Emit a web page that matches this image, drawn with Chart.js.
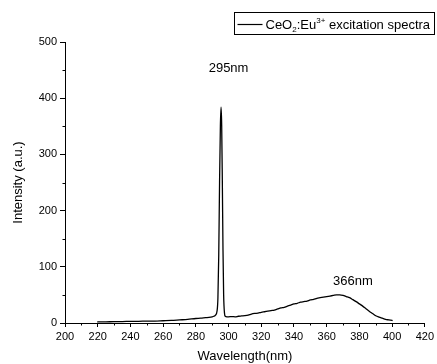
<!DOCTYPE html>
<html>
<head>
<meta charset="utf-8">
<script src="https://cdn.jsdelivr.net/npm/chart.js@4"></script>
<style>
  html, body { margin: 0; padding: 0; background: #fff; }
  #wrap { width: 437px; height: 364px; }
</style>
</head>
<body>
<div id="wrap"><canvas id="chart"></canvas></div>
<script>
// wavelength (nm) and intensity (a.u.)
const wavelengths = [220, 225, 230, 235, 240, 245, 250, 255, 260, 265, 270, 275, 280, 283, 286, 288, 290, 291, 292, 293,
  293.5, 294, 294.5, 295, 295.4, 295.8, 296.2, 296.6, 297, 297.5, 298, 299, 300, 302, 304, 306, 308, 310, 312, 314,
  316, 318, 320, 322, 324, 326, 328, 330, 332, 334, 336, 338, 340, 342, 344, 346, 348, 350, 352, 354,
  356, 358, 360, 362, 364, 366, 368, 370, 372, 374, 376, 378, 380, 382, 384, 386, 388, 390, 392, 394,
  396, 398, 400];
const intensity = [2, 2, 2.5, 2.5, 3, 3, 3.5, 3.5, 4, 4.5, 5.5, 6.5, 8, 8.5, 9.5, 10, 11, 12, 14, 22,
  45, 120, 250, 350, 384, 352, 250, 130, 50, 18, 12, 11, 11, 11.5, 11, 12, 12.5, 13, 14, 16,
  17, 17.5, 19, 20, 21, 22, 23, 25, 27, 28, 30, 32, 34, 35, 37, 38, 39, 41, 42, 44,
  45, 46, 47, 48, 49, 50, 50, 49, 47, 45, 41.5, 38, 34, 30, 25.5, 21, 17, 13, 10.5, 8.5,
  6.5, 5.5, 4.5];

const xMajorTicks = [200, 220, 240, 260, 280, 300, 320, 340, 360, 380, 400, 420];
const xMinorTicks = [210, 230, 250, 270, 290, 310, 330, 350, 370, 390, 410];
const yMajorTicks = [0, 100, 200, 300, 400, 500];
const yMinorTicks = [50, 150, 250, 350, 450];

const peakLabels = ['295nm', '366nm'];
const peakLabelX = [300, 376];
const peakLabelY = [453, 74];

const seriesName = 'CeO₂:Eu³⁺ excitation spectra';

const points = wavelengths.map((w, i) => ({ x: w, y: intensity[i] }));

const FONT = '"Liberation Sans", Arial, sans-serif';

// short minor ticks, peak labels and the boxed legend
const extras = {
  id: 'extras',
  afterDraw(chart) {
    const ctx = chart.ctx;
    const xs = chart.scales.x, ys = chart.scales.y;
    const area = chart.chartArea;
    ctx.save();
    ctx.strokeStyle = '#000';
    ctx.lineWidth = 1;
    ctx.beginPath();
    xMinorTicks.forEach(v => {
      const px = Math.round(xs.getPixelForValue(v)) + 0.5;
      ctx.moveTo(px, area.bottom);
      ctx.lineTo(px, area.bottom + 2.5);
    });
    yMinorTicks.forEach(v => {
      const py = Math.round(ys.getPixelForValue(v)) + 0.5;
      ctx.moveTo(area.left, py);
      ctx.lineTo(area.left - 2.5, py);
    });
    ctx.stroke();

    ctx.fillStyle = '#000';
    ctx.font = '13px ' + FONT;
    ctx.textAlign = 'center';
    ctx.textBaseline = 'middle';
    peakLabels.forEach((t, i) => {
      ctx.fillText(t, xs.getPixelForValue(peakLabelX[i]), ys.getPixelForValue(peakLabelY[i]));
    });

    // legend box
    const bx = 234.5, by = 12.5, bw = 200, bh = 22;
    ctx.strokeRect(bx, by, bw, bh);
    ctx.beginPath();
    ctx.moveTo(bx + 3, by + 12);
    ctx.lineTo(bx + 28, by + 12);
    ctx.lineWidth = 1.2;
    ctx.stroke();
    ctx.textAlign = 'left';
    ctx.textBaseline = 'alphabetic';
    const base = by + 16.5;
    let cx = bx + 31;
    const parts = [
      ['CeO', 13, 0], ['2', 8, 3], [':Eu', 13, 0], ['3+', 8, -6], [' excitation spectra', 13, 0]
    ];
    parts.forEach(([t, size, dy]) => {
      ctx.font = size + 'px ' + FONT;
      ctx.fillText(t, cx, base + dy);
      cx += ctx.measureText(t).width;
    });
    ctx.restore();
  }
};

new Chart(document.getElementById('chart'), {
  type: 'line',
  data: {
    datasets: [{
      label: seriesName,
      data: points,
      borderColor: '#000',
      borderWidth: 1.3,
      borderJoinStyle: 'round',
      borderCapStyle: 'round',
      cubicInterpolationMode: 'monotone',
      pointRadius: 0,
      fill: false
    }]
  },
  options: {
    responsive: true,
    maintainAspectRatio: false,
    animation: false,
    layout: { padding: { top: 42, right: 9, left: 0, bottom: 0 } },
    plugins: {
      legend: { display: false },
      tooltip: { enabled: false }
    },
    scales: {
      x: {
        type: 'linear',
        min: 200,
        max: 420,
        afterFit: s => { s.height = 41; },
        afterBuildTicks: s => { s.ticks = xMajorTicks.map(v => ({ value: v })); },
        border: { display: true, color: '#000', width: 1 },
        grid: { display: true, drawOnChartArea: false, tickLength: 4, color: '#000' },
        ticks: { color: '#000', padding: 3, maxRotation: 0, font: { family: FONT, size: 11 } },
        title: { display: true, text: 'Wavelength(nm)', color: '#000', padding: { top: 0, bottom: 0 }, font: { family: FONT, size: 13 } }
      },
      y: {
        min: 0,
        max: 500,
        afterFit: s => { s.width = 65; },
        afterBuildTicks: s => { s.ticks = yMajorTicks.map(v => ({ value: v })); },
        border: { display: true, color: '#000', width: 1 },
        grid: { display: true, drawOnChartArea: false, tickLength: 5, color: '#000' },
        ticks: { color: '#000', padding: 3, font: { family: FONT, size: 11 } },
        title: { display: true, text: 'Intensity (a.u.)', color: '#000', padding: { top: 11, bottom: 0 }, font: { family: FONT, size: 13 } }
      }
    }
  },
  plugins: [extras]
});
</script>
</body>
</html>
